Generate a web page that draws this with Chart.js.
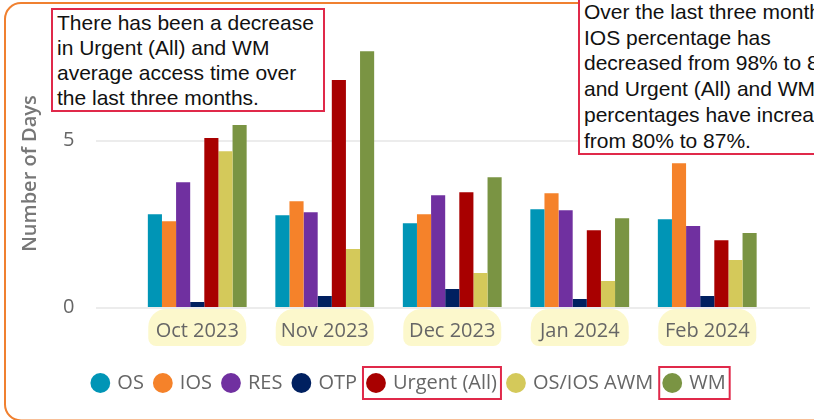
<!DOCTYPE html>
<html>
<head>
<meta charset="utf-8">
<script src="https://cdn.jsdelivr.net/npm/chart.js@4/dist/chart.umd.min.js"></script>
<style>
  html, body { margin: 0; padding: 0; background: #fff; overflow: hidden; }
  #wrap { position: relative; width: 814px; height: 420px; overflow: hidden; }
  canvas { position: absolute; left: 0; top: 0; }
  .note {
    position: absolute;
    border: 2px solid #e0294a;
    background: #fff;
    font-family: "Liberation Sans", Arial, sans-serif;
    font-size: 21px;
    color: #111;
    padding: 0 4px;
    white-space: nowrap;
  }
</style>
</head>
<body>
<div id="wrap">
  <canvas id="chart" width="814" height="420"></canvas>
  <div class="note" style="left:51px; top:8px; width:262px; line-height:25px;">
    There has been a decrease<br>in Urgent (All) and WM<br>average access time over<br>the last three months.
  </div>
  <div class="note" style="left:578px; top:-3px; width:300px; line-height:25.7px;">
    Over the last three months,<br>IOS percentage has<br>decreased from 98% to 89%<br>and Urgent (All) and WM<br>percentages have increased<br>from 80% to 87%.
  </div>
</div>
<script>
const months = ["Oct 2023", "Nov 2023", "Dec 2023", "Jan 2024", "Feb 2024"];

const osDays      = [2.78, 2.75, 2.51, 2.93, 2.63];
const iosDays     = [2.57, 3.17, 2.78, 3.41, 4.31];
const resDays     = [3.74, 2.84, 3.35, 2.90, 2.43];
const otpDays     = [0.15, 0.33, 0.54, 0.24, 0.33];
const urgentDays  = [5.06, 6.80, 3.44, 2.30, 2.00];
const awmDays     = [4.67, 1.74, 1.02, 0.78, 1.41];
const wmDays      = [5.45, 7.66, 3.89, 2.66, 2.22];

const yTicks = [0, 5];

const seriesNames  = ["OS", "IOS", "RES", "OTP", "Urgent (All)", "OS/IOS AWM", "WM"];
const seriesValues = [osDays, iosDays, resDays, otpDays, urgentDays, awmDays, wmDays];
const seriesColors = ["#0095b6", "#f5822a", "#7030a0", "#002060", "#a80000", "#d4c95a", "#7a9443"];
const boxedLegend  = ["Urgent (All)", "WM"];

const grey = "#666";

// frame, tick pills, gridlines, legend boxes
const decor = {
  id: "decor",
  beforeDraw(chart) {
    const ctx = chart.ctx;
    ctx.save();
    ctx.strokeStyle = "#f08030";
    ctx.lineWidth = 2;
    ctx.beginPath();
    ctx.roundRect(5, 3, 900, 417.5, 16);
    ctx.stroke();

    // gridlines
    const y = chart.scales.y;
    ctx.strokeStyle = "#ececec";
    ctx.lineWidth = 2;
    yTicks.forEach(t => {
      const py = Math.round(y.getPixelForValue(t)) + 1;
      ctx.beginPath();
      ctx.moveTo(96, py);
      ctx.lineTo(810, py);
      ctx.stroke();
    });

    // label pills
    const x = chart.scales.x;
    ctx.fillStyle = "#fcf8cc";
    months.forEach((m, i) => {
      const cx = x.getPixelForValue(i);
      ctx.beginPath();
      ctx.roundRect(cx - 49, y.bottom + 2, 98, 37, [18, 18, 8, 8]);
      ctx.fill();
    });
    ctx.restore();
  },
  afterDraw(chart) {
    const ctx = chart.ctx;
    const lg = chart.legend;
    ctx.save();
    ctx.strokeStyle = "#e0294a";
    ctx.lineWidth = 2;
    lg.legendItems.forEach((item, i) => {
      if (!boxedLegend.includes(item.text)) return;
      const b = lg.legendHitBoxes[i];
      ctx.strokeRect(b.left - 6, b.top - 6, b.width + 10, b.height + 12);
    });
    ctx.restore();
  }
};

new Chart(document.getElementById("chart"), {
  type: "bar",
  data: {
    labels: months,
    datasets: seriesNames.map((name, i) => ({
      label: name,
      data: seriesValues[i],
      backgroundColor: seriesColors[i],
      borderWidth: 0,
      barPercentage: 1,
      categoryPercentage: 0.775
    }))
  },
  options: {
    responsive: false,
    animation: false,
    devicePixelRatio: 1,
    layout: { padding: { left: 5, right: 0, top: 40, bottom: 17 } },
    scales: {
      x: {
        grid: { display: false },
        border: { display: false },
        afterFit(scale) { scale.height += 14; },
        ticks: {
          color: grey,
          padding: 4,
          font: { family: "Open Sans", size: 20 }
        }
      },
      y: {
        min: 0,
        max: 8,
        ticks: {
          stepSize: 5,
          color: grey,
          padding: 59,
          font: { family: "Open Sans", size: 20 },
          callback: v => (yTicks.includes(v) ? v : "")
        },
        afterFit(scale) {
          scale.width = 128.5;
          // big label padding should not push the plot down
          scale.paddingTop = 0;
          scale.paddingBottom = 0;
        },
        grid: { display: false, drawTicks: false },
        border: { display: false },
        title: {
          display: true,
          text: "Number of Days",
          color: "#777",
          padding: { top: 13, bottom: 0 },
          font: { family: "Open Sans", size: 20, weight: "600" }
        }
      },
      // empty right gutter, keeps plot clear of the right edge
      yR: {
        position: "right",
        min: 0,
        max: 8,
        afterFit(scale) {
          scale.width = 43;
          scale.paddingTop = 0;
          scale.paddingBottom = 0;
        },
        grid: { display: false, drawTicks: false },
        border: { display: false },
        ticks: { display: false }
      }
    },
    plugins: {
      legend: {
        position: "bottom",
        labels: {
          usePointStyle: true,
          pointStyle: "circle",
          boxWidth: 14,
          boxHeight: 14,
          padding: 12,
          color: grey,
          font: { family: "Open Sans", size: 20 }
        }
      },
      tooltip: { enabled: false }
    }
  },
  plugins: [decor]
});
</script>
</body>
</html>
